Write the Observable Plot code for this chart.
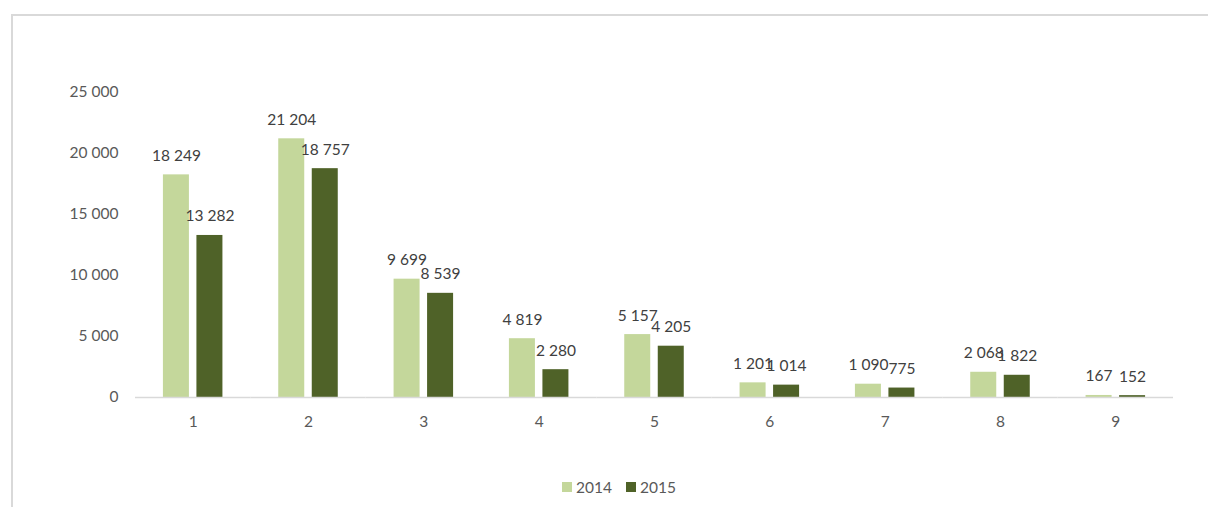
<!DOCTYPE html>
<html>
<head>
<meta charset="utf-8">
<script src="https://cdn.jsdelivr.net/npm/d3@7"></script>
<script src="https://cdn.jsdelivr.net/npm/@observablehq/plot@0.6"></script>
<style>
  body { margin: 0; background: #fff; }
  #wrap { position: relative; width: 1208px; height: 507px; overflow: hidden; font-family: "Lato", sans-serif; }
  #frame { position: absolute; left: 11px; top: 14px; width: 1300px; height: 600px; border: 2px solid #d9d9d9; box-sizing: border-box; }
  #chart { position: absolute; left: 0; top: 0; }
  #legend { position: absolute; left: 0; top: 478px; width: 1208px; display: flex; justify-content: center; gap: 14px; font-size: 15.5px; color: #595959; padding-left: 30px; box-sizing: border-box; }
  .item { display: flex; align-items: center; gap: 4px; }
  .sw { width: 10px; height: 10px; display: inline-block; }
</style>
</head>
<body>
<div id="wrap">
  <div id="frame"></div>
  <div id="chart"></div>
  <div id="legend"></div>
</div>
<script>
const categories = ["1", "2", "3", "4", "5", "6", "7", "8", "9"];
const years = ["2014", "2015"];
const values2014 = [18249, 21204, 9699, 4819, 5157, 1201, 1090, 2068, 167];
const values2015 = [13282, 18757, 8539, 2280, 4205, 1014, 775, 1822, 152];
const yTicks = [0, 5000, 10000, 15000, 20000, 25000];
const colors = ["#c4d79b", "#4f6228"];

const fmt = d3.formatLocale({ thousands: " ", grouping: [3], decimal: ",", currency: ["", ""] }).format(",d");

const data = [];
categories.forEach((c, i) => {
  data.push({ cat: c, year: years[0], value: values2014[i] });
  data.push({ cat: c, year: years[1], value: values2015[i] });
});

const chart = Plot.plot({
  width: 1208,
  height: 460,
  marginLeft: 135,
  marginRight: 35,
  marginTop: 92,
  marginBottom: 63,
  style: { fontFamily: "Lato", fontSize: "15.5px", color: "#595959", background: "transparent" },
  fx: { domain: categories, padding: 0, round: false, axis: "bottom", tickSize: 0, tickPadding: 18, label: null },
  x: { domain: years, paddingInner: 0.224, paddingOuter: 0.833, round: false, axis: null },
  y: { domain: [0, 25000], ticks: yTicks, tickSize: 0, tickPadding: 17, tickFormat: fmt, label: null },
  color: { domain: years, range: colors },
  marks: [
    Plot.barY(data, { fx: "cat", x: "year", y: "value", fill: "year" }),
    Plot.ruleY([0], { stroke: "#d9d9d9", strokeWidth: 1.5 }),
    Plot.text(data, { fx: "cat", x: "year", y: "value", text: d => fmt(d.value), dy: -19, fill: "#404040" })
  ]
});
document.getElementById("chart").appendChild(chart);

const legend = document.getElementById("legend");
years.forEach((y, i) => {
  const it = document.createElement("div");
  it.className = "item";
  const sw = document.createElement("span");
  sw.className = "sw";
  sw.style.background = colors[i];
  const t = document.createElement("span");
  t.textContent = y;
  it.appendChild(sw);
  it.appendChild(t);
  legend.appendChild(it);
});
</script>
</body>
</html>
